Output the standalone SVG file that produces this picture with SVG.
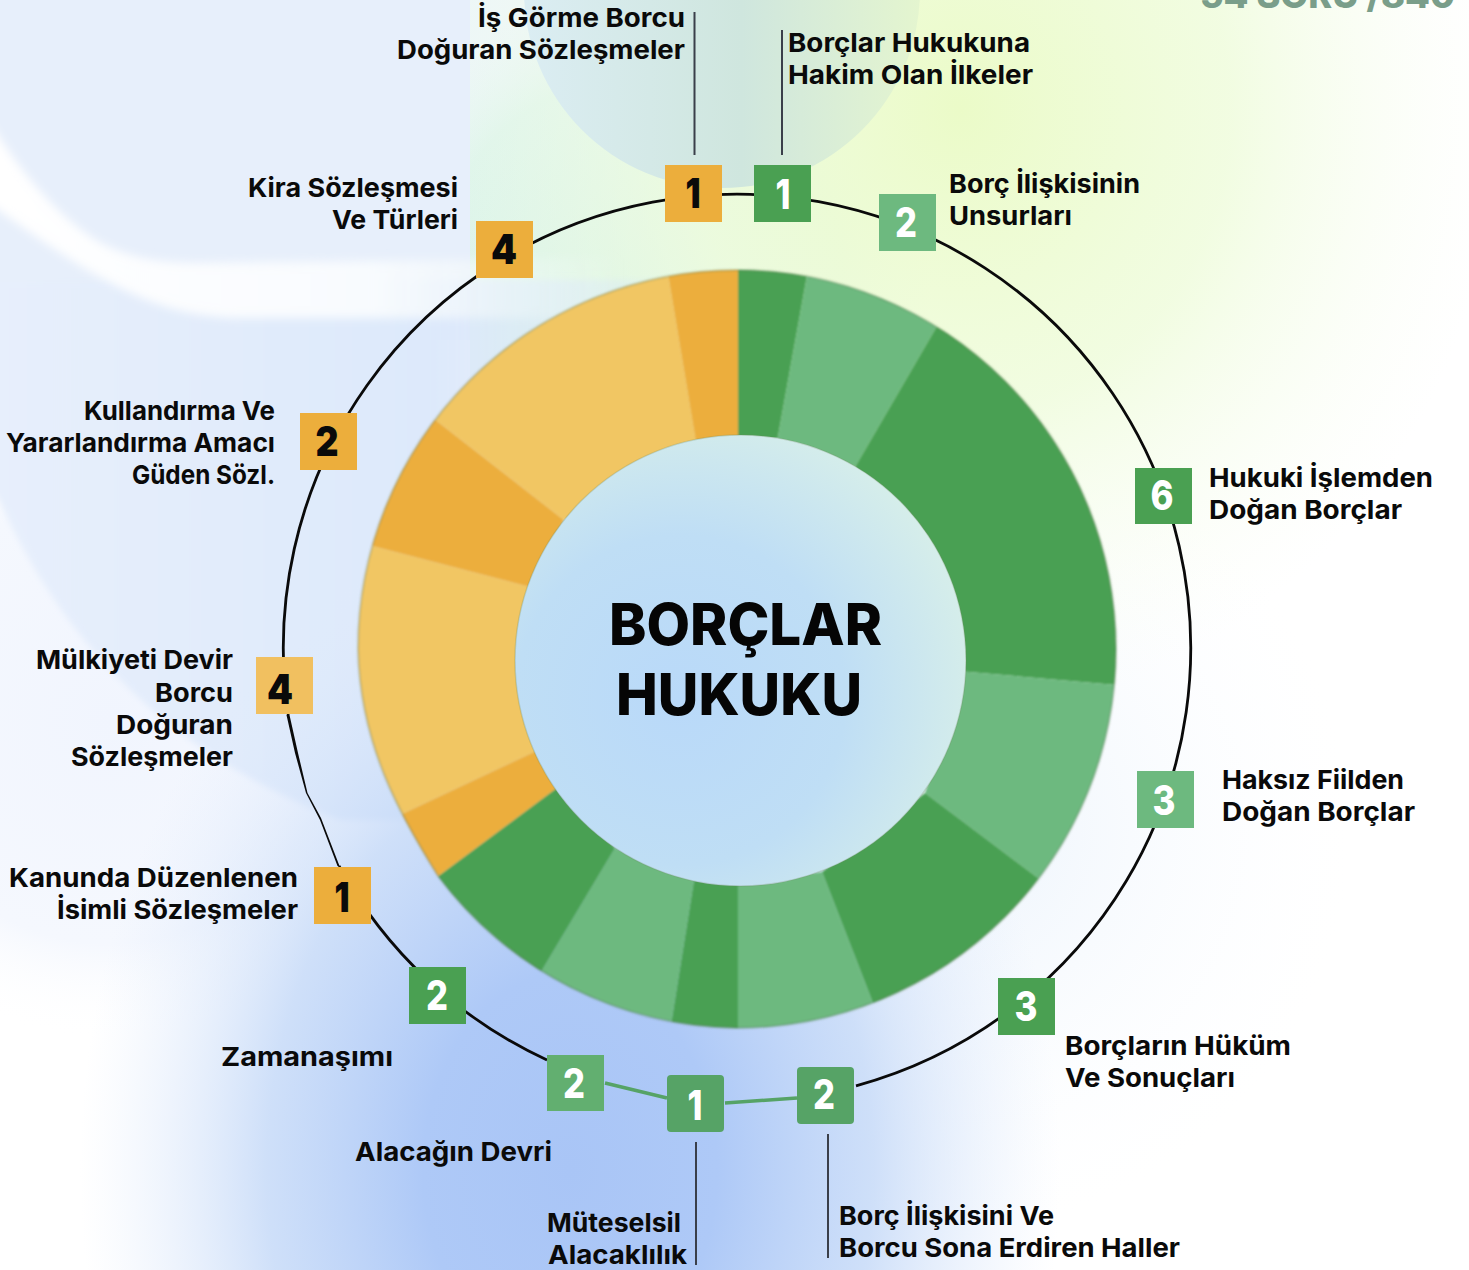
<svg xmlns="http://www.w3.org/2000/svg" width="1469" height="1270" viewBox="0 0 1469 1270">
<style>
.t{font-family:"Inter","Liberation Sans",sans-serif;font-weight:700;font-size:26px;fill:#0a0a0a}
.h{font-family:"Inter","Liberation Sans",sans-serif;font-weight:800;font-size:58px;fill:#050505}
.n{font-family:"Inter","Liberation Sans",sans-serif;font-weight:800;font-size:41px;text-anchor:middle}
.w{fill:#fff}.k{fill:#0a0a0a;font-weight:900}
.dg{fill:#4aa052}.lg{fill:#6db97f}.or{fill:#ecae3c}.ly{fill:#f1c663}
.c{fill:none;stroke:#0a0a0a;stroke-width:2.8}
.v{fill:none;stroke:#3a3f4a;stroke-width:2}
.g{fill:none;stroke:#56a366;stroke-width:3.5}
</style>
<defs>
<radialGradient id="blue" gradientUnits="userSpaceOnUse" cx="0" cy="0" r="1" gradientTransform="translate(570 1170) scale(490 660)"><stop offset="0" stop-color="#a9c5f6"/><stop offset=".3" stop-color="#aec9f7"/><stop offset=".62" stop-color="#c6daf8" stop-opacity=".85"/><stop offset="1" stop-color="#e2ecfc" stop-opacity="0"/></radialGradient>
<radialGradient id="lime" gradientUnits="userSpaceOnUse" cx="0" cy="0" r="1" gradientTransform="translate(960 110) scale(540 600)"><stop offset="0" stop-color="#ebfbc8"/><stop offset=".5" stop-color="#effcdc" stop-opacity=".85"/><stop offset="1" stop-color="#f8fdf2" stop-opacity="0"/></radialGradient>
<radialGradient id="mint" gradientUnits="userSpaceOnUse" cx="640" cy="280" r="290"><stop offset="0" stop-color="#d4f2e2"/><stop offset=".7" stop-color="#dcf4ea"/><stop offset="1" stop-color="#e8f5f6" stop-opacity="0"/></radialGradient>
<radialGradient id="pale" gradientUnits="userSpaceOnUse" cx="110" cy="720" r="320"><stop offset="0" stop-color="#f1f5fe"/><stop offset=".7" stop-color="#f5f8fe"/><stop offset="1" stop-color="#fff" stop-opacity="0"/></radialGradient>
<radialGradient id="side" gradientUnits="userSpaceOnUse" cx="950" cy="830" r="400"><stop offset="0" stop-color="#ebf3fc"/><stop offset="1" stop-color="#fbfdff" stop-opacity="0"/></radialGradient>
<linearGradient id="low" gradientUnits="userSpaceOnUse" x1="0" y1="0" x2="720" y2="0"><stop offset="0" stop-color="#e7effc"/><stop offset=".6" stop-color="#dde9fb"/><stop offset="1" stop-color="#d6e6f8" stop-opacity="0"/></linearGradient>
<linearGradient id="band" gradientUnits="userSpaceOnUse" x1="0" y1="0" x2="620" y2="0"><stop offset="0" stop-color="#fff"/><stop offset=".6" stop-color="#f8fbfe"/><stop offset="1" stop-color="#f2faf8" stop-opacity="0"/></linearGradient>
<linearGradient id="top" x1="0" y1="0" x2="1" y2="0"><stop offset="0" stop-color="#dbedf3"/><stop offset=".55" stop-color="#cfe6de"/><stop offset="1" stop-color="#e4f5cf"/></linearGradient>
<radialGradient id="in" gradientUnits="userSpaceOnUse" cx="680" cy="700" r="300"><stop offset="0" stop-color="#b9d9f9"/><stop offset=".55" stop-color="#bfdef5"/><stop offset="1" stop-color="#d6eeea"/></radialGradient>
<filter id="blur" x="-10%" y="-30%" width="120%" height="160%"><feGaussianBlur stdDeviation="5"/></filter>
<filter id="edge" x="-5%" y="-5%" width="110%" height="110%"><feGaussianBlur stdDeviation="3"/></filter>
<filter id="soft" x="-5%" y="-5%" width="110%" height="110%"><feGaussianBlur stdDeviation="1"/></filter>
<path id="rim" d="M358 649C360 745 400 815 438 876A379 379 0 0 0 737 1028A379 379 0 0 0 1116 649A379 379 0 0 0 737 270A379 379 0 0 0 358 649Z"/>
<clipPath id="disc"><use href="#rim"/></clipPath>
</defs>
<g id="background">
<rect width="1469" height="1270" fill="#fff"/>
<rect width="1469" height="1270" fill="url(#side)"/>
<rect y="380" width="480" height="660" fill="url(#pale)"/>
<rect x="470" y="0" width="300" height="340" fill="#ecf6f8"/>
<rect x="470" y="0" width="500" height="640" fill="url(#mint)"/>
<rect width="1469" height="800" fill="url(#lime)"/>
<circle cx="722" cy="-10" r="198" fill="url(#top)"/>
<rect width="470" height="340" fill="#e7effb"/>
<path d="M-40 280H720V820H340C210 770 80 680 0 502L-40 440Z" fill="url(#low)" filter="url(#edge)"/>
<path d="M-30 90C10 160 50 210 94 239C125 258 160 263 200 263L620 258V318H234C180 316 140 300 100 277C60 255 20 225 -30 190Z" fill="url(#band)" filter="url(#blur)"/>
<rect width="1469" height="1270" fill="url(#blue)"/>
</g>
<text x="1200" y="8" textLength="255" lengthAdjust="spacingAndGlyphs" style="font-family:Inter,sans-serif;font-weight:800;font-size:36px;fill:#7a9e8a">54 SORU /840</text>
<g id="chart">
<g filter="url(#soft)"><g clip-path="url(#disc)">
<path class="dg" d="M738 440L738 230A420 420 0 0 1 814 237L777 442Z"/>
<path class="lg" d="M777 442L814 237A420 420 0 0 1 958 290L855 467Z"/>
<path class="dg" d="M855 467L958 290A420 420 0 0 1 1156 688.500L963 671.500Z"/>
<path class="lg" d="M963 671.500L1156 688.500A420 420 0 0 1 1070 902L925 793Z"/>
<path class="dg" d="M925 793L1070 902A420 420 0 0 1 888 1042L822 872Z"/>
<path class="lg" d="M822 872L888 1042A420 420 0 0 1 738 1068L738 882Z"/>
<path class="dg" d="M738 882L738 1068A420 420 0 0 1 665 1062L694 880Z"/>
<path class="lg" d="M694 880L665 1062A420 420 0 0 1 523 1002L615 848Z"/>
<path class="dg" d="M615 848L523 1002A420 420 0 0 1 406 900L558 787Z"/>
<path class="or" d="M558 787L406 900A420 420 0 0 1 372 828L536 751Z"/>
<path class="ly" d="M536 751L372 828A420 420 0 0 1 338 537L530 587Z"/>
<path class="or" d="M530 587L338 537A420 420 0 0 1 410 400L564 520Z"/>
<path class="ly" d="M564 520L410 400A420 420 0 0 1 662 238L696 442Z"/>
<path class="or" d="M696 442L662 238A420 420 0 0 1 738 230L738 440Z"/>
</g>
<use href="#rim" fill="none" stroke="#3f5f35" stroke-opacity=".28" stroke-width="2"/>
</g>
<circle cx="740.500" cy="660.500" r="225.500" fill="url(#in)" stroke="#6f8a60" stroke-opacity=".25" stroke-width="1.500"/>
<text class="h" x="609" y="645" textLength="273" lengthAdjust="spacingAndGlyphs">BORÇLAR</text>
<text class="h" x="616" y="715" textLength="246" lengthAdjust="spacingAndGlyphs">HUKUKU</text>
</g>
<g id="connectors">
<path class="c" d="M856 1085.800A453.700 453.700 0 1 0 288.300 715M339 866A453.700 453.700 0 0 0 547 1060"/>
<path d="M286.500 715L295 753L306 793L320 820L337.500 866L339.500 866L321 818L307.500 793L298 753L289.500 715Z" fill="#0a0a0a"/>
<path class="g" d="M605 1083L667 1098M725 1103L797 1098"/>
<path class="v" d="M694.500 12V155M782 30V155M696 1142V1265M828 1134V1258"/>
</g>
<g id="n1"><rect class="or" x="665" y="165" width="57" height="57"/><text class="n k" x="693" y="208" textLength="15" lengthAdjust="spacingAndGlyphs">1</text><text class="t" x="478" y="27" textLength="207" lengthAdjust="spacingAndGlyphs">İş Görme Borcu</text><text class="t" x="397" y="59" textLength="288" lengthAdjust="spacingAndGlyphs">Doğuran Sözleşmeler</text></g>
<g id="n2"><rect class="dg" x="754" y="165" width="57" height="57"/><text class="n w" x="783" y="209" textLength="15" lengthAdjust="spacingAndGlyphs">1</text><text class="t" x="788" y="52" textLength="242" lengthAdjust="spacingAndGlyphs">Borçlar Hukukuna</text><text class="t" x="788" y="84" textLength="245" lengthAdjust="spacingAndGlyphs">Hakim Olan İlkeler</text></g>
<g id="n3"><rect class="lg" x="879" y="194" width="57" height="57"/><text class="n w" x="906" y="237" textLength="22" lengthAdjust="spacingAndGlyphs">2</text><text class="t" x="949" y="193" textLength="191" lengthAdjust="spacingAndGlyphs">Borç İlişkisinin</text><text class="t" x="949" y="225" textLength="123" lengthAdjust="spacingAndGlyphs">Unsurları</text></g>
<g id="n4"><rect class="dg" x="1135" y="468" width="57" height="56"/><text class="n w" x="1162" y="510" textLength="23" lengthAdjust="spacingAndGlyphs">6</text><text class="t" x="1209" y="487" textLength="224" lengthAdjust="spacingAndGlyphs">Hukuki İşlemden</text><text class="t" x="1209" y="519" textLength="193" lengthAdjust="spacingAndGlyphs">Doğan Borçlar</text></g>
<g id="n5"><rect class="lg" x="1137" y="771" width="57" height="57"/><text class="n w" x="1164" y="815" textLength="23" lengthAdjust="spacingAndGlyphs">3</text><text class="t" x="1222" y="789" textLength="182" lengthAdjust="spacingAndGlyphs">Haksız Fiilden</text><text class="t" x="1222" y="821" textLength="193" lengthAdjust="spacingAndGlyphs">Doğan Borçlar</text></g>
<g id="n6"><rect class="dg" x="998" y="978" width="57" height="57"/><text class="n w" x="1026" y="1021" textLength="23" lengthAdjust="spacingAndGlyphs">3</text><text class="t" x="1065" y="1055" textLength="226" lengthAdjust="spacingAndGlyphs">Borçların Hüküm</text><text class="t" x="1065" y="1087" textLength="170" lengthAdjust="spacingAndGlyphs">Ve Sonuçları</text></g>
<g id="n7"><rect class="dg" x="797" y="1067" width="57" height="57" rx="4" style="fill:#56a366"/><text class="n w" x="824" y="1109" textLength="22" lengthAdjust="spacingAndGlyphs">2</text><text class="t" x="839" y="1225" textLength="215" lengthAdjust="spacingAndGlyphs">Borç İlişkisini Ve</text><text class="t" x="839" y="1257" textLength="341" lengthAdjust="spacingAndGlyphs">Borcu Sona Erdiren Haller</text></g>
<g id="n8"><rect class="dg" x="667" y="1075" width="57" height="57" rx="4" style="fill:#56a366"/><text class="n w" x="695" y="1120" textLength="15" lengthAdjust="spacingAndGlyphs">1</text><text class="t" x="547" y="1232" textLength="134" lengthAdjust="spacingAndGlyphs">Müteselsil</text><text class="t" x="548" y="1264" textLength="139" lengthAdjust="spacingAndGlyphs">Alacaklılık</text></g>
<g id="n9"><rect x="547" y="1055" width="57" height="56" fill="#62af70"/><text class="n w" x="574" y="1098" textLength="22" lengthAdjust="spacingAndGlyphs">2</text><text class="t" x="355" y="1161" textLength="197" lengthAdjust="spacingAndGlyphs">Alacağın Devri</text></g>
<g id="n10"><rect class="dg" x="409" y="967" width="57" height="57"/><text class="n w" x="437" y="1010" textLength="22" lengthAdjust="spacingAndGlyphs">2</text><text class="t" x="221" y="1066" textLength="172" lengthAdjust="spacingAndGlyphs">Zamanaşımı</text></g>
<g id="n11"><rect class="or" x="314" y="867" width="57" height="57"/><text class="n k" x="342" y="912" textLength="15" lengthAdjust="spacingAndGlyphs">1</text><text class="t" x="9" y="887" textLength="289" lengthAdjust="spacingAndGlyphs">Kanunda Düzenlenen</text><text class="t" x="57" y="919" textLength="241" lengthAdjust="spacingAndGlyphs">İsimli Sözleşmeler</text></g>
<g id="n12"><rect x="256" y="657" width="57" height="57" fill="#f1c060"/><text class="n k" x="280" y="704" textLength="26" lengthAdjust="spacingAndGlyphs">4</text><text class="t" x="36" y="669" textLength="197" lengthAdjust="spacingAndGlyphs">Mülkiyeti Devir</text><text class="t" x="155" y="702" textLength="78" lengthAdjust="spacingAndGlyphs">Borcu</text><text class="t" x="116" y="734" textLength="117" lengthAdjust="spacingAndGlyphs">Doğuran</text><text class="t" x="71" y="766" textLength="162" lengthAdjust="spacingAndGlyphs">Sözleşmeler</text></g>
<g id="n13"><rect class="or" x="300" y="413" width="57" height="57"/><text class="n k" x="327" y="456" textLength="23" lengthAdjust="spacingAndGlyphs">2</text><text class="t" x="84" y="420" textLength="191" lengthAdjust="spacingAndGlyphs">Kullandırma Ve</text><text class="t" x="6" y="452" textLength="269" lengthAdjust="spacingAndGlyphs">Yararlandırma Amacı</text><text class="t" x="132" y="484" textLength="143" lengthAdjust="spacingAndGlyphs">Güden Sözl.</text></g>
<g id="n14"><rect class="or" x="476" y="221" width="57" height="57"/><text class="n k" x="504" y="264" textLength="26" lengthAdjust="spacingAndGlyphs">4</text><text class="t" x="248" y="197" textLength="210" lengthAdjust="spacingAndGlyphs">Kira Sözleşmesi</text><text class="t" x="332" y="229" textLength="126" lengthAdjust="spacingAndGlyphs">Ve Türleri</text></g>
</svg>
